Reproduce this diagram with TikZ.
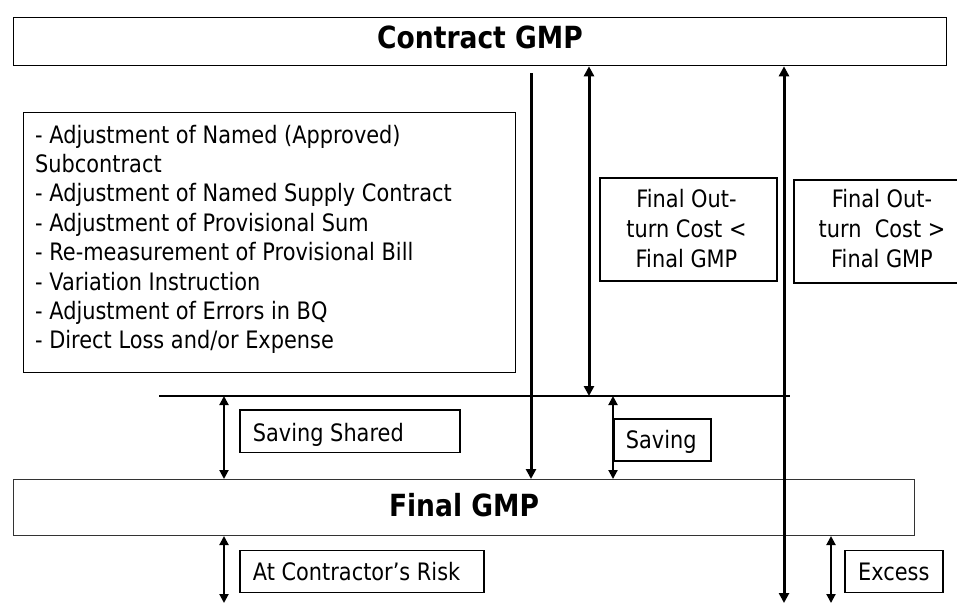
\documentclass[tikz,border=0pt]{standalone}
\usepackage{fontspec}
\setmainfont{DejaVu Sans}[FakeStretch=0.87]
\usetikzlibrary{arrows.meta}
\begin{document}
\begin{tikzpicture}[x=1pt,y=-1pt,
  box/.style={draw, line width=1.3pt, inner sep=0pt, anchor=north west},
  obox/.style={draw, line width=2.2pt, inner sep=0pt, anchor=north west},
  body/.style={font=\fontsize{24}{29.4}\selectfont, inner sep=0pt},
  title/.style={font=\fontsize{30.5}{36}\selectfont\bfseries, inner sep=0pt, anchor=base},
  thickarr/.style={line width=3pt, line cap=butt, -{Triangle[length=10pt,width=10pt]}},
  thickdbl/.style={line width=3pt, line cap=butt, {Triangle[length=10pt,width=10pt]}-{Triangle[length=10pt,width=10pt]}},
  thindbl/.style={line width=2pt, {Triangle[length=9pt,width=9pt]}-{Triangle[length=9pt,width=9pt]}}
]
\useasboundingbox (0,0) rectangle (957,605);

% main boxes
\node[box, minimum width=933pt, minimum height=48pt] (cgmp) at (13,17) {};
\node[title] (cgmpt) at (480,48.5) {Contract GMP};

\node[box, line width=1pt, draw=black!80, minimum width=901pt, minimum height=56pt] (fgmp) at (13,479) {};
\node[title] (fgmpt) at (464,516) {Final GMP};

% list box
\node[box, minimum width=492pt, minimum height=260pt] (list) at (23,112) {};
\foreach \t [count=\i from 0] in {%
  {- Adjustment of Named (Approved)},
  {Subcontract},
  {- Adjustment of Named Supply Contract},
  {- Adjustment of Provisional Sum},
  {- Re-measurement of Provisional Bill},
  {- Variation Instruction},
  {- Adjustment of Errors in BQ},
  {- Direct Loss and/or Expense}}
  \node[body, anchor=base west] (l\i) at (35,143+29.4*\i) {\t};

% out-turn boxes
\node[obox, minimum width=177pt, minimum height=103pt] (ob1) at (598.5,176.5) {};
\node[body, anchor=base] (ob1a) at (686.5,207) {Final Out-};
\node[body, anchor=base] (ob1b) at (686.5,237) {turn Cost <};
\node[body, anchor=base] (ob1c) at (686.5,267) {Final GMP};

\node[obox, minimum width=170pt, minimum height=103pt] (ob2) at (793,178.5) {};
\node[body, anchor=base] (ob2a) at (882,207) {Final Out-};
\node[body, anchor=base] (ob2b) at (882,237) {turn~ Cost >};
\node[body, anchor=base] (ob2c) at (882,267) {Final GMP};

% label boxes
\node[box, minimum width=220pt, minimum height=42.5pt] (ssb) at (239.3,409.3) {};
\node[body, anchor=base west] (sst) at (252.7,441) {Saving Shared};

\node[box, minimum width=97pt, minimum height=42pt] (svb) at (613.3,418.3) {};
\node[body, anchor=base west] (svt) at (625.7,448) {Saving};

\node[box, minimum width=244pt, minimum height=42pt] (crb) at (239.3,550) {};
\node[body, anchor=base west] (crt) at (252.7,580) {At Contractor’s Risk};

\node[box, minimum width=98pt, minimum height=42pt] (exb) at (844.3,550) {};
\node[body, anchor=base west] (ext) at (858,580) {Excess};

% horizontal line
\coordinate (hL) at (159,396);
\coordinate (hR) at (790,396);
\draw[line width=1.3pt] (hL) -- (hR);

% vertical connectors
\coordinate (aT) at (531,73);
\coordinate (bX) at (589,0);
\coordinate (cX) at (784,0);
\coordinate (cB) at (784,603);
\coordinate (sX) at (224,0);
\coordinate (sB) at (224,603);
\coordinate (vX) at (613,0);
\coordinate (eB) at (831,603);

\draw[thickarr] (aT) -- (aT |- fgmp.north);
\draw[thickdbl] (bX |- cgmp.south) -- (bX |- hL);
\draw[thickdbl] (cX |- cgmp.south) -- (cB);

\draw[thindbl] (sX |- hL) -- (sX |- fgmp.north);
\draw[thindbl] (sX |- fgmp.south) -- (sB);
\draw[thindbl] (vX |- hL) -- (vX |- fgmp.north);
\draw[thindbl] (eB |- fgmp.south) -- (eB);
\end{tikzpicture}
\end{document}
